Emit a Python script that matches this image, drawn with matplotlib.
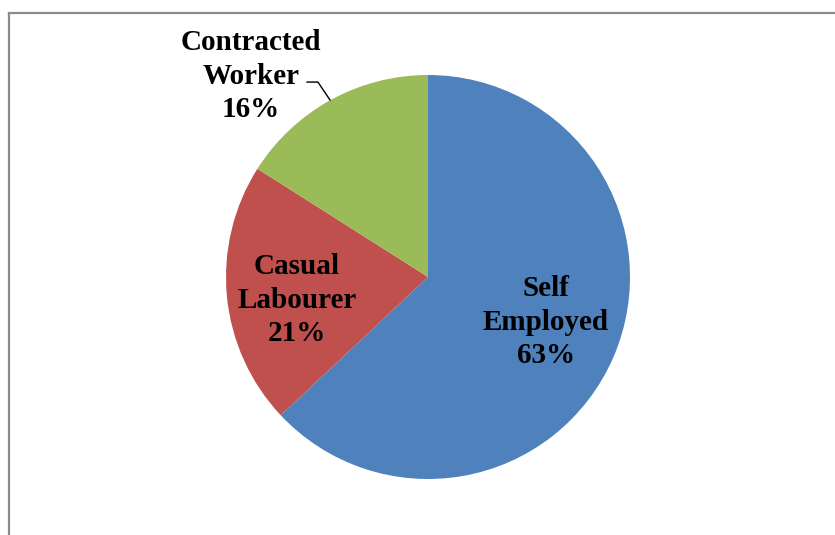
import matplotlib.pyplot as plt
from matplotlib.lines import Line2D

labels = ['Self\nEmployed', 'Casual\nLabourer', 'Contracted\nWorker']
shares = [63, 21, 16]
colors = ['#4F81BD', '#C0504D', '#9BBB59']

W, H = 835, 535
fig = plt.figure(figsize=(W / 100, H / 100), dpi=100)

# chart area frame (left and top edges visible)
fig.add_artist(Line2D([8.5 / W, 8.5 / W], [0, 1 - 13 / H], color='#8c8c8c', lw=1.6,
                      transform=fig.transFigure))
fig.add_artist(Line2D([8.5 / W, 1], [1 - 13 / H, 1 - 13 / H], color='#8c8c8c', lw=1.6,
                      transform=fig.transFigure))

cx, cy, r = 428, 277, 202
ax = fig.add_axes([(cx - r) / W, (H - cy - r) / H, 2 * r / W, 2 * r / H])
ax.pie(shares, colors=colors, startangle=90, counterclock=False,
       wedgeprops=dict(linewidth=0))
ax.set_xlim(-1, 1)
ax.set_ylim(-1, 1)
ax.set_aspect('equal')
ax.axis('off')

font = dict(family='Liberation Serif', weight='bold', size=21, ha='center', va='center',
            linespacing=1.3)
label_pos = [(0.584, -0.223), (-0.649, -0.114), (-0.876, 0.995)]
for lab, val, (x, y) in zip(labels, shares, label_pos):
    ax.text(x, y, f'{lab}\n{val}%', clip_on=False, **font)

# leader line for the small slice
ax.plot([-0.599, -0.545, -0.485], [0.965, 0.965, 0.876], color='black', lw=1,
        clip_on=False)

fig.savefig('out.png', dpi=100)
